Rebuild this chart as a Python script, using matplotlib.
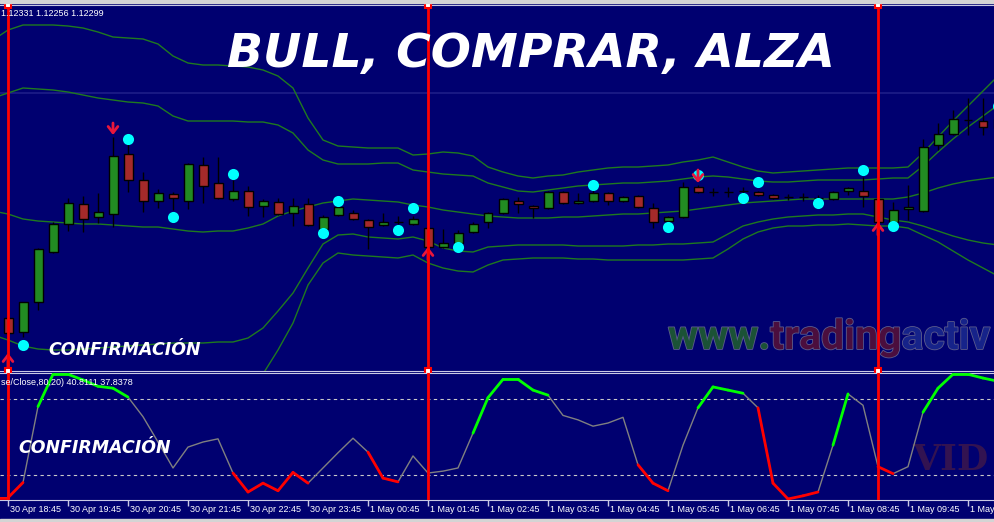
import numpy as np
import matplotlib
matplotlib.use('Agg')
import matplotlib.pyplot as plt
import matplotlib.patheffects as pe
from matplotlib.patches import Rectangle
from matplotlib.transforms import blended_transform_factory

# prices are kept in points above BASE (1 point = 0.00001)
BASE = 1.12000
PT = 0.00001

# M15 candles, index 0 = 30 Apr 18:45
open_pts = [53, 39, 69, 119, 147, 167, 154, 157, 217, 191,
            170, 177, 170, 206, 188, 172, 180, 165, 169, 158,
            167, 142, 156, 158, 151, 146, 149, 147, 143, 124,
            128, 139, 149, 158, 170, 165, 163, 179, 168, 170,
            178, 170, 175, 163, 150, 154, 184, 179, 179, 180,
            179, 176, 174, 174, 173, 172, 180, 180, 172, 149,
            162, 160, 226, 237, 251, 250, 243]
high_pts = [68, 69, 123, 149, 173, 175, 178, 234, 228, 199,
            182, 179, 208, 214, 214, 191, 185, 172, 173, 173,
            173, 156, 166, 161, 152, 158, 155, 155, 147, 142,
            141, 149, 159, 173, 174, 166, 180, 180, 178, 181,
            179, 175, 176, 168, 155, 189, 186, 183, 184, 184,
            180, 177, 177, 178, 176, 180, 184, 194, 173, 169,
            186, 232, 248, 261, 273, 273, 259]
low_pts = [34, 34, 61, 118, 140, 139, 148, 144, 179, 159,
           163, 161, 162, 168, 172, 170, 155, 154, 156, 145,
           145, 140, 155, 151, 122, 145, 147, 146, 121, 123,
           126, 138, 143, 157, 158, 153, 162, 167, 167, 169,
           166, 169, 163, 143, 149, 153, 178, 175, 174, 177,
           175, 172, 171, 170, 171, 171, 176, 164, 148, 148,
           151, 159, 221, 236, 236, 236, 242]
close_pts = [38, 69, 122, 147, 168, 152, 159, 215, 191, 170,
             178, 173, 207, 185, 173, 180, 164, 170, 157, 165,
             146, 154, 164, 152, 144, 149, 149, 152, 124, 128,
             138, 147, 158, 172, 167, 163, 179, 168, 170, 178,
             170, 174, 164, 149, 154, 184, 179, 179, 179, 180,
             176, 173, 174, 174, 173, 179, 183, 175, 149, 161,
             164, 224, 237, 252, 251, 244, 252]

# bollinger style envelopes, index -1 .. 66
band_up2 = [331, 341, 346, 346, 346, 345, 343, 339, 334, 333,
            332, 327, 315, 308, 306, 306, 305, 304, 301, 295,
            283, 253, 231, 225, 224, 223, 223, 223, 216, 217,
            219, 218, 215, 204, 199, 195, 193, 195, 196, 199,
            201, 203, 204, 204, 205, 206, 209, 211, 214, 209,
            204, 200, 198, 199, 200, 201, 202, 203, 203, 203,
            203, 204, 218, 234, 250, 265, 280, 295]
band_up1 = [273, 278, 283, 282, 281, 279, 276, 273, 271, 269,
            268, 265, 255, 250, 250, 250, 250, 249, 249, 246,
            238, 221, 211, 207, 207, 207, 208, 208, 201, 199,
            197, 196, 195, 188, 184, 180, 179, 181, 183, 185,
            186, 187, 188, 188, 189, 190, 192, 194, 195, 194,
            192, 190, 189, 189, 190, 191, 191, 191, 191, 192,
            193, 193, 205, 219, 232, 244, 255, 266]
band_mid = [160, 157, 152, 150, 149, 148, 147, 147, 146, 145,
            144, 144, 142, 140, 139, 140, 140, 143, 147, 155,
            160, 164, 168, 170, 172, 171, 170, 169, 166, 164,
            161, 159, 157, 155, 154, 153, 153, 153, 154, 154,
            155, 156, 157, 157, 158, 159, 160, 162, 164, 166,
            168, 169, 170, 171, 172, 172, 172, 172, 172, 172,
            172, 174, 178, 183, 187, 190, 192, 194]
band_lo1 = [36, 31, 25, 22, 21, 21, 22, 23, 24, 25,
            26, 27, 28, 28, 28, 29, 29, 33, 43, 60,
            78, 103, 127, 136, 137, 134, 133, 132, 134, 130,
            123, 120, 119, 124, 125, 126, 126, 126, 126, 125,
            125, 125, 125, 126, 126, 127, 127, 128, 129, 137,
            145, 149, 152, 154, 155, 156, 156, 157, 157, 154,
            151, 149, 145, 140, 135, 131, 128, 126]
band_lo2 = [-29, -34, -41, -45, -47, -48, -48, -45, -41, -41,
            -42, -42, -37, -31, -27, -26, -25, -17, -3, 21,
            48, 86, 108, 118, 116, 115, 114, 113, 116, 108,
            103, 100, 99, 106, 111, 112, 113, 113, 113, 112,
            112, 111, 111, 111, 111, 111, 111, 112, 113, 122,
            132, 139, 143, 145, 145, 146, 146, 147, 146, 145,
            145, 143, 136, 129, 120, 111, 103, 95]

# cyan signal dots
dot_idx = [1, 8, 11, 15, 21, 22, 26, 27, 30, 39, 44, 46, 49, 50, 54, 57, 59, 66]
dot_pts = [26, 232, 154, 197, 138, 170, 141, 163, 124, 186, 144, 196, 173, 189, 168, 201, 145, 265]

# arrows
down_idx = [7, 46]
down_tail = [248, 201]
down_tip = [236, 188]
up_idx = [0, 28, 58]
up_tail = [4, 111, 136]
up_tip = [18, 124, 149]
vline_idx = [0, 28, 58]

# stochastic (index -1 .. 66) and colour of each segment
stoch = [2, 2, 14, 74, 99.5, 99.5, 95, 90, 88.5, 81.5,
         66, 46, 25.5, 42, 46, 48.5, 21.5, 6.5, 13.5, 7.5,
         22, 13.5, 25.5, 37.5, 49, 38, 17.5, 14.5, 35, 21.5,
         23, 25.5, 53, 81, 95.5, 95.5, 87, 83, 67, 63.5,
         58.5, 61, 65.5, 28, 13.5, 7.5, 43.5, 73, 89.5, 87,
         84.5, 73, 13.5, 1, 3.5, 6.5, 43.5, 84, 75, 26.5,
         21, 26.5, 69.5, 88.5, 99.5, 99.5, 96.5, 94]
seg_col = ("rrn" + "gggggg" + "nnnnnnn" + "rrrrr" + "nnnn" + "rr" + "nnnnn"
           + "ggggg" + "nnnnnn" + "rr" + "nn" + "ggg" + "n" + "rrrr" + "n"
           + "g" + "nn" + "r" + "nn" + "ggggg")

tick_idx = list(range(0, 65, 4))
tick_labels = ['30 Apr 18:45', '30 Apr 19:45', '30 Apr 20:45', '30 Apr 21:45',
               '30 Apr 22:45', '30 Apr 23:45', '1 May 00:45', '1 May 01:45',
               '1 May 02:45', '1 May 03:45', '1 May 04:45', '1 May 05:45',
               '1 May 06:45', '1 May 07:45', '1 May 08:45', '1 May 09:45',
               '1 May']

wm_words = ['www.', 'trading', 'activ']
wm_colors = ['#1b5236', '#4b0e3e', '#16238a']

NAVY = '#000070'
BAND = '#1f7a1f'
BULL = '#228B22'
BEAR = '#A52A2A'
EDGE = '#c8c8e4'
W, H = 994, 522


def rect(x0, y0, x1, y1):
    return [x0 / W, 1 - y1 / H, (x1 - x0) / W, (y1 - y0) / H]


def px(v):
    return BASE + np.asarray(v, dtype=float) * PT


fig = plt.figure(figsize=(W / 100, H / 100), dpi=100, facecolor=NAVY)
ax = fig.add_axes(rect(0, 5, W, 371), facecolor=NAVY)
ax2 = fig.add_axes(rect(0, 373, W, 500), facecolor=NAVY)
xl = (-8 / 15, (W - 8) / 15)

# ---- main price panel
ci = np.arange(len(open_pts))
bi = np.arange(-1, len(band_mid) - 1)
o, h, l, c = px(open_pts), px(high_pts), px(low_pts), px(close_pts)

ax.axhline(px(278), color='#1e1e88', lw=1.2, zorder=1)
for band in [band_up2, band_up1, band_mid, band_lo1, band_lo2]:
    ax.plot(bi, px(band), color=BAND, lw=1, zorder=2)

ax.vlines(ci, l, h, color='black', lw=1, zorder=3)
ax.bar(ci, np.abs(c - o), bottom=np.minimum(o, c), width=0.6,
       color=np.where(c >= o, BULL, BEAR), edgecolor='black', linewidth=1, zorder=4)

ax.plot(dot_idx, px(dot_pts), 'o', ms=8, color='#00FFFF', mec='none', zorder=6)

for i, t0, t1 in zip(down_idx + up_idx, down_tail + up_tail, down_tip + up_tip):
    ax.annotate('', xy=(i, px(t1)), xytext=(i, px(t0)), zorder=7,
                arrowprops=dict(arrowstyle='->,head_length=0.45,head_width=0.35',
                                color='#E8173C', lw=2, shrinkA=0, shrinkB=0))

# watermark: words placed one after the other, sized to the reference width
renderer = fig.canvas.get_renderer()
wm_font = dict(family='Roboto', weight='bold')
probe = fig.text(0, 0, ''.join(wm_words), fontsize=30, **wm_font)
fs = 30 * 322 / probe.get_window_extent(renderer).width
probe.remove()
outline = [pe.withStroke(linewidth=1.2, foreground='#5c5c8c')]
x = 668
for txt, col in zip(wm_words, wm_colors):
    t = ax.text(x, H - 349, txt, transform=None, ha='left', va='baseline', color=col,
                fontsize=fs, path_effects=outline, zorder=1.5, **wm_font)
    x += t.get_window_extent(renderer).width

for a in (ax, ax2):
    for i in vline_idx:
        a.axvline(i, color='#FF0000', lw=2, zorder=8)
    a.set_xlim(xl)
    a.spines['left'].set_visible(False)
    a.spines['right'].set_visible(False)
    a.spines['top'].set_color(EDGE)
    a.spines['bottom'].set_color(EDGE)
    a.set_yticks([])

for i in vline_idx:
    ax.plot([i, i], [px(366), px(0)], ls='none', marker='s', ms=4, mfc='white',
            mec='red', mew=1.5, clip_on=False, zorder=9)

ax.set_ylim(px(0), px(366))
ax.set_xticks([])

# ---- stochastic panel
si = np.arange(-1, len(stoch) - 1)
sv = np.array(stoch)
ax2.axhline(80, color='#c8c8c8', lw=0.8, ls=(0, (3, 3)))
ax2.axhline(20, color='#c8c8c8', lw=0.8, ls=(0, (3, 3)))
ax2.plot(si, sv, color='#808080', lw=1, zorder=3)
cols = {'g': '#00FF00', 'r': '#FF0000'}
for k, s in enumerate(seg_col):
    if s in cols:
        ax2.plot(si[k:k + 2], sv[k:k + 2], color=cols[s], lw=2, zorder=4,
                 solid_capstyle='round')
ax2.set_ylim(0.2, 100.5)
ax2.set_xticks(tick_idx)
ax2.set_xticklabels([])
ax2.tick_params(axis='x', direction='out', length=4, color=EDGE, width=1)

bt = blended_transform_factory(ax2.transData, ax2.transAxes)
for i, lab in zip(tick_idx, tick_labels):
    ax2.text(i + 0.15, -0.075, lab, transform=bt, ha='left', va='center',
             color='white', fontsize=6.5, family='Liberation Sans', clip_on=False)

ax2.text(912, H - 470, 'VID', transform=None, color='#40184a', fontsize=26,
         family='DejaVu Serif', weight='bold', alpha=0.8, zorder=1)

# ---- texts
fig.text(531 / W, 1 - 67 / H, 'BULL, COMPRAR, ALZA', ha='center', va='baseline',
         color='white', fontsize=34, weight='bold', style='italic', family='DejaVu Sans')
fig.text(48 / W, 1 - 355 / H, 'CONFIRMACIÓN', ha='left', va='baseline',
         color='white', fontsize=12.5, weight='bold', style='italic', family='DejaVu Sans')
fig.text(18 / W, 1 - 453 / H, 'CONFIRMACIÓN', ha='left', va='baseline',
         color='white', fontsize=12.5, weight='bold', style='italic', family='DejaVu Sans')
fig.text(1 / W, 1 - 16 / H, '1.12331 1.12256 1.12299', ha='left', va='baseline',
         color='white', fontsize=6.5, family='Liberation Sans')
fig.text(1 / W, 1 - 385 / H, 'se/Close,80,20) 40.8111 37.8378', ha='left', va='baseline',
         color='white', fontsize=6.5, family='Liberation Sans')

# window frame strips
fig.patches.append(Rectangle((0, 1 - 3 / H), 1, 3 / H, transform=fig.transFigure,
                             color='#d4d4d4', zorder=0))
fig.patches.append(Rectangle((0, 0), 1, 3 / H, transform=fig.transFigure,
                             color='#d4d4d4', zorder=0))

fig.savefig('out.png', dpi=100, facecolor=NAVY)
